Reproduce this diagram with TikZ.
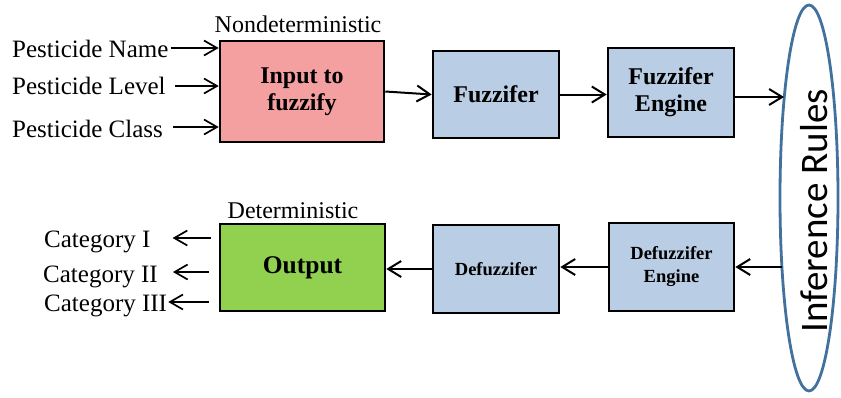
\documentclass[tikz,border=0pt]{standalone}
\usepackage{fontspec}
\setmainfont{Liberation Serif}
\newfontfamily\rulesfont{Carlito}
\usetikzlibrary{arrows.meta,shapes.geometric,calc}

\definecolor{inpink}{RGB}{244,160,160}
\definecolor{boxblue}{RGB}{185,205,229}
\definecolor{outgreen}{RGB}{146,208,80}
\definecolor{ruleblue}{RGB}{65,113,156}

\tikzset{
  stagebox/.style={draw=black, line width=2.6pt, rectangle, inner sep=0pt,
    align=center, font=\fontsize{24}{27}\selectfont\bfseries},
  smallstage/.style={stagebox, font=\fontsize{18.5}{23}\selectfont\bfseries},
  lbl/.style={inner sep=0pt, font=\fontsize{25}{28}\selectfont},
  headlbl/.style={inner sep=0pt, font=\fontsize{24}{28}\selectfont},
  flow/.style={line width=2pt, -{Straight Barb[length=13pt,width=16pt,line width=2pt]}},
  thinflow/.style={line width=1.7pt, -{Straight Barb[length=13pt,width=15pt,line width=1.7pt]}}
}

\begin{document}
\begin{tikzpicture}[x=1pt,y=-1pt]
\useasboundingbox (0,0) rectangle (841,397);

% upper row: fuzzification stages
\node[stagebox, fill=inpink, minimum width=164, minimum height=101] (in) at (302,91.5) {Input to\\fuzzify};
\node[stagebox, fill=boxblue, minimum width=126, minimum height=87] (fz) at (496,94.5) {Fuzzifer};
\node[stagebox, fill=boxblue, minimum width=126, minimum height=89] (fe) at (671,92.5) {Fuzzifer\\Engine};

% lower row: defuzzification stages
\node[stagebox, fill=outgreen, minimum width=165, minimum height=87, font=\fontsize{25.5}{28}\selectfont\bfseries] (out) at (302.5,267.5) {Output};
\node[smallstage, fill=boxblue, minimum width=126, minimum height=88] (df) at (496,269) {Defuzzifer};
\node[smallstage, fill=boxblue, minimum width=125, minimum height=88] (de) at (671.5,267) {Defuzzifer\\Engine};

% rule base
\node[ellipse, draw=ruleblue, line width=2.8pt, fill=white, inner sep=0pt,
      minimum width=58, minimum height=386] (ir) at (809,198) {};
\node[inner sep=0pt, rotate=90, anchor=base, font=\rulesfont\fontsize{39}{44}\selectfont] (irtext) at (827,211) {Inference Rules};
\coordinate (rin) at (784,97);
\coordinate (rout) at (782,267);

% headings
\node[headlbl, anchor=base] (nd) at (298,32) {Nondeterministic};
\node[headlbl, anchor=base] (dt) at (293,218) {Deterministic};

% inputs
\node[lbl, anchor=base west] (pn) at (12,57) {Pesticide Name};
\node[lbl, anchor=base west] (pl) at (12,94) {Pesticide Level};
\node[lbl, anchor=base west] (pc) at (12,137) {Pesticide Class};

\draw[thinflow] ($(pn.base east)+(2pt,9pt)$) -- ($(pn.base -| in.west)+(0,9pt)$);
\draw[thinflow] ($(pl.base east)+(9pt,8pt)$) -- ($(pl.base -| in.west)+(0,8pt)$);
\draw[thinflow] ($(pc.base east)+(10pt,10pt)$) -- ($(pc.base -| in.west)+(0,10pt)$);

% outputs
\node[lbl, anchor=base west] (c1) at (44,247) {Category I};
\node[lbl, anchor=base west] (c2) at (43,282) {Category II};
\node[lbl, anchor=base west] (c3) at (44,311) {Category III};

\draw[thinflow] ($(c1.base -| out.west)+(-8pt,9pt)$) -- ($(c1.base east)+(22pt,9pt)$);
\draw[thinflow] ($(c2.base -| out.west)+(-10pt,10pt)$) -- ($(c2.base east)+(15pt,10pt)$);
\draw[thinflow] ($(c3.base -| out.west)+(-10pt,9pt)$) -- ($(c3.base east)+(1pt,9pt)$);

% forward chain
\draw[flow] (in.east) -- (fz.west);
\draw[flow] (fz.east) -- (fz.east -| fe.west);
\draw[flow] (fe.east |- rin) -- (rin);

% backward chain
\draw[flow] (rout) -- (rout -| de.east);
\draw[flow] (de.west) -- (de.west -| df.east);
\draw[flow] (df.west) -- (df.west -| out.east);
\end{tikzpicture}
\end{document}
